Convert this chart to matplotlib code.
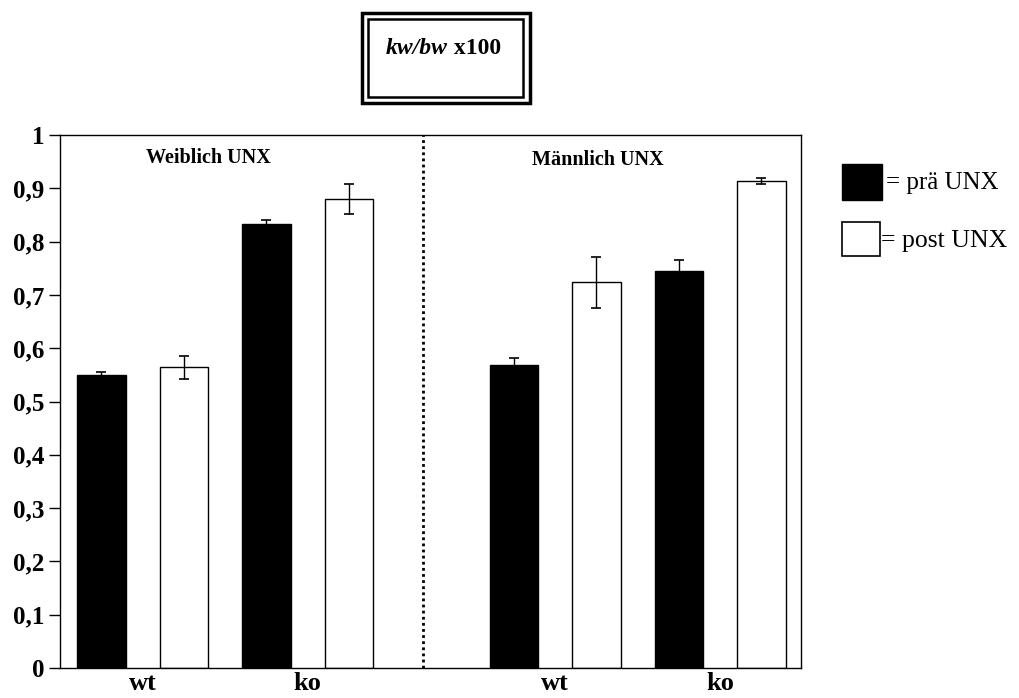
import matplotlib
matplotlib.use("Agg")
import matplotlib.pyplot as plt
from matplotlib.patches import Rectangle
import numpy as np

# Data
groups = ["Weiblich UNX", "Männlich UNX"]
genotypes = ["wt", "ko", "wt", "ko"]
pre_vals = [0.549, 0.833, 0.568, 0.745]
pre_err = [0.006, 0.007, 0.013, 0.02]
post_vals = [0.564, 0.880, 0.724, 0.914]
post_err = [0.021, 0.028, 0.048, 0.006]
yticks = [0, 0.1, 0.2, 0.3, 0.4, 0.5, 0.6, 0.7, 0.8, 0.9, 1]
ytick_labels = ["0", "0,1", "0,2", "0,3", "0,4", "0,5", "0,6", "0,7", "0,8", "0,9", "1"]
legend_labels = ["= prä UNX", "= post UNX"]

serif = "Liberation Serif"
plt.rcParams['font.family'] = [serif, 'DejaVu Serif']

fig = plt.figure(figsize=(10.2, 6.98), dpi=100)
W, H = 1020, 698
ax = fig.add_axes([60 / W, (H - 668) / H, (801 - 60) / W, (668 - 135) / H])

pair_base = np.array([0, 2, 5, 7])
pre_x = pair_base
post_x = pair_base + 1
bw = 0.59

ax.bar(pre_x, pre_vals, width=bw, color="black", edgecolor="black", linewidth=1, zorder=2)
ax.bar(post_x, post_vals, width=bw, color="white", edgecolor="black", linewidth=1, zorder=2)
ax.errorbar(pre_x, pre_vals, yerr=pre_err, fmt="none", ecolor="black", elinewidth=1, capsize=3.5, capthick=1.2, zorder=3)
ax.errorbar(post_x, post_vals, yerr=post_err, fmt="none", ecolor="black", elinewidth=1, capsize=3.5, capthick=1.2, zorder=3)

ax.set_xlim(-0.503, 8.48)
ax.set_ylim(0, 1)
ax.axvline(3.9, color="black", linestyle=(0, (1, 1.2)), linewidth=2, zorder=1)

ax.set_yticks(yticks)
ax.set_yticklabels(ytick_labels, fontsize=18, fontweight="bold", family=serif)
ax.tick_params(axis="y", direction="out", length=8, width=1, pad=3)
ax.set_xticks(pair_base + 0.5)
ax.set_xticklabels(genotypes, fontsize=19, fontweight="bold", family=serif)
ax.tick_params(axis="x", length=0, pad=3)
for s in ax.spines.values():
    s.set_linewidth(1)

ax.text(1.29, 0.957, groups[0], ha="center", va="center", fontsize=14.5, fontweight="bold", family=serif)
ax.text(6.02, 0.953, groups[1], ha="center", va="center", fontsize=14.5, fontweight="bold", family=serif)

# Title box (double border)
def fig_rect(x0, y0, x1, y1, lw):
    r = Rectangle((x0 / W, 1 - y1 / H), (x1 - x0) / W, (y1 - y0) / H, transform=fig.transFigure,
                  fill=False, edgecolor="black", linewidth=lw)
    fig.patches.append(r)

fig_rect(362, 13, 530, 103, 2.5)
fig_rect(368, 19, 523, 97, 1.8)
t1 = fig.text(386 / W, 1 - 48 / H, "kw/bw", ha="left", va="center", fontsize=17, fontweight="bold",
              fontstyle="italic", family=serif)
fig.canvas.draw()
bb = t1.get_window_extent()
fig.text(bb.x1 / W, 1 - 48 / H, " x100", ha="left", va="center", fontsize=17, fontweight="bold", family=serif)

# Legend
fig.patches.append(Rectangle((842 / W, 1 - 200 / H), 40 / W, 36 / H, transform=fig.transFigure,
                             facecolor="black", edgecolor="black", linewidth=1))
fig.patches.append(Rectangle((842 / W, 1 - 256 / H), 38 / W, 34 / H, transform=fig.transFigure,
                             facecolor="white", edgecolor="black", linewidth=1.2))
fig.text(886 / W, 1 - 183 / H, legend_labels[0], ha="left", va="center", fontsize=18, family=serif)
fig.text(881 / W, 1 - 241 / H, legend_labels[1], ha="left", va="center", fontsize=18.5, family=serif)

fig.savefig("out.png", dpi=100)
